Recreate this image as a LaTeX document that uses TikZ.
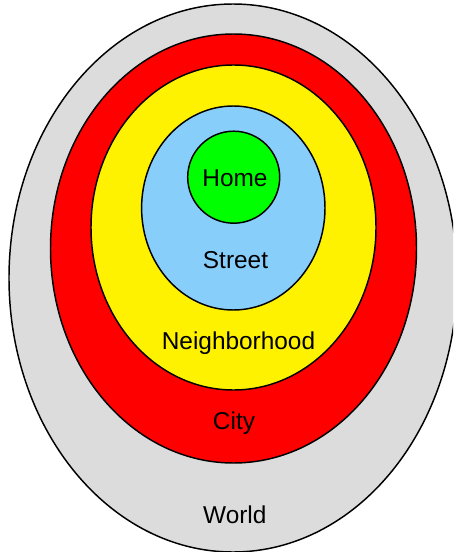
\documentclass[tikz,border=0pt]{standalone}
\usepackage{fontspec}
\setmainfont{Liberation Sans}
\definecolor{worldgray}{HTML}{DCDCDC}
\definecolor{streetblue}{HTML}{87CEFA}
\definecolor{homegreen}{HTML}{00FF00}
\begin{document}
\begin{tikzpicture}[x=0.75pt,y=-0.75pt,
  ring/.style={draw=black,line width=1.1pt},
  lbl/.style={font=\fontsize{18.3}{20}\selectfont,inner sep=0pt,text=black}]
\useasboundingbox (0,0) rectangle (453,552);
\clip (0,0) rectangle (453,552);
\fill[white] (0,0) rectangle (453,552);
\draw[ring,fill=worldgray] (233,278) ellipse [x radius=224,y radius=274];
\draw[ring,fill=red] (233.5,248.5) ellipse [x radius=183,y radius=214.5];
\draw[ring,fill=yellow] (233.5,227.5) ellipse [x radius=142.5,y radius=162.5];
\draw[ring,fill=streetblue] (233.3,208) ellipse [x radius=91.7,y radius=102];
\draw[ring,fill=homegreen] (233.7,177.2) circle [radius=46];
\node[lbl] (home) at (235,178) {Home};
\node[lbl] (street) at (235.5,260) {Street};
\node[lbl] (neigh) at (238.5,343) {Neighborhood};
\node[lbl] (city) at (234,423) {City};
\node[lbl] (world) at (234.8,515) {World};
\end{tikzpicture}
\end{document}
